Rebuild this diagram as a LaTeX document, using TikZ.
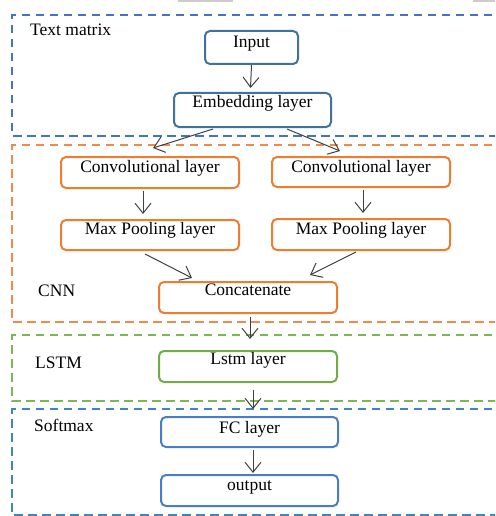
\documentclass[tikz,border=0pt]{standalone}
\usepackage{fontspec}
\setmainfont{Liberation Serif}
\usetikzlibrary{arrows.meta,calc}

\definecolor{frameblue}{HTML}{4472C4}
\definecolor{frameorange}{HTML}{F08A4B}
\definecolor{framegreen}{HTML}{7CB655}
\definecolor{framesky}{HTML}{3D85C8}
\definecolor{boxblue}{HTML}{41719C}
\definecolor{boxorange}{HTML}{ED7D31}
\definecolor{boxgreen}{HTML}{70AD47}
\definecolor{boxlight}{HTML}{4A7CC9}
\definecolor{arrowgray}{HTML}{404040}

\tikzset{
  txt/.style={font=\fontsize{17.5}{20}\selectfont, text=black},
  layerbox/.style={txt, draw, line width=2pt, rounded corners=5pt,
    inner xsep=0pt, inner ysep=0pt, anchor=base, align=center},
  grouplabel/.style={txt, anchor=base west, inner sep=0pt},
  groupframe/.style={line width=2pt, dash pattern=on 8.5pt off 5.5pt},
  flow/.style={draw=arrowgray, line width=1pt,
    -{Straight Barb[length=10pt,width=16pt,line width=1pt]}},
}

\begin{document}
\begin{tikzpicture}[x=1pt,y=-1pt]
  \useasboundingbox (0,0) rectangle (495,516);
  \clip (0,0) rectangle (495,516);

  % grey marks along the top edge
  \fill[gray!40] (178,0) rectangle (233,2.5);
  \fill[gray!40] (473,0) rectangle (495,2.5);

  % dashed group frames (open on the right)
  \draw[groupframe, frameblue]   (520,15)  -- (12,15)  -- (12,136) -- (520,136);
  \draw[groupframe, frameorange] (520,145) -- (12,145) -- (12,322) -- (520,322);
  \draw[groupframe, framegreen]  (520,335) -- (12,335) -- (12,401) -- (520,401);
  \draw[groupframe, framesky]    (520,409) -- (12,409) -- (12,515) -- (520,515);

  % group labels
  \node[grouplabel] (lbltext) at (30,36)  {Text matrix};
  \node[grouplabel] (lblcnn)  at (38,296) {CNN};
  \node[grouplabel] (lbllstm) at (35,368) {LSTM};
  \node[grouplabel] (lblsoft) at (34,431) {Softmax};

  % layers
  \node[layerbox, draw=boxblue, minimum width=93pt, text height=16.5pt, text depth=16.5pt]
    (inp) at (251.5,47.5) {Input};
  \node[layerbox, draw=boxblue, minimum width=157pt, text height=15pt, text depth=19pt]
    (emb) at (252.5,108) {Embedding layer};

  \node[layerbox, draw=boxorange, minimum width=178pt, text height=15pt, text depth=16pt]
    (conva) at (150,172) {Convolutional layer};
  \node[layerbox, draw=boxorange, minimum width=178pt, text height=15pt, text depth=15pt]
    (convb) at (361,172) {Convolutional layer};
  \node[layerbox, draw=boxorange, minimum width=178pt, text height=14pt, text depth=16pt]
    (poola) at (150,234) {Max Pooling layer};
  \node[layerbox, draw=boxorange, minimum width=178pt, text height=15pt, text depth=16pt]
    (poolb) at (361,234) {Max Pooling layer};
  \node[layerbox, draw=boxorange, minimum width=178pt, text height=13pt, text depth=18pt]
    (cat) at (248,295) {Concatenate};

  \node[layerbox, draw=boxgreen, minimum width=178pt, text height=13pt, text depth=18pt]
    (lstm) at (248,364) {Lstm layer};

  \node[layerbox, draw=boxlight, minimum width=177pt, text height=16pt, text depth=14pt]
    (fc) at (249.5,433) {FC layer};
  \node[layerbox, draw=boxlight, minimum width=177pt, text height=15pt, text depth=16pt]
    (out) at (249.5,490) {output};

  % connectors
  \draw[flow] (inp.south) -- ($(emb.north)+(-2,-4)$);
  \draw[flow] ($(emb.south)+(-39.5,1)$) -- ($(conva.north)+(3,-8)$);
  \draw[flow] ($(emb.south)+(34.5,1)$)  -- ($(convb.north)+(-21,-5)$);
  \draw[flow] ($(conva.south)+(-7,2)$) -- ($(poola.north)+(-7,-5)$);
  \draw[flow] ($(convb.south)+(2,2)$)  -- ($(poolb.north)+(2,-5)$);
  \draw[flow] ($(poola.south)+(-5,3)$) -- ($(cat.north)+(-56,-3)$);
  \draw[flow] ($(poolb.south)+(-5,1)$) -- ($(cat.north)+(62,-6)$);
  \draw[flow] ($(cat.south)+(2,3)$)    -- ($(lstm.north)+(2,-11)$);
  \draw[flow] ($(lstm.south)+(5,7)$)   -- ($(fc.north)+(3.5,-7)$);
  \draw[flow] ($(fc.south)+(3.5,2)$)   -- ($(out.north)+(3.5,-1)$);
\end{tikzpicture}
\end{document}
